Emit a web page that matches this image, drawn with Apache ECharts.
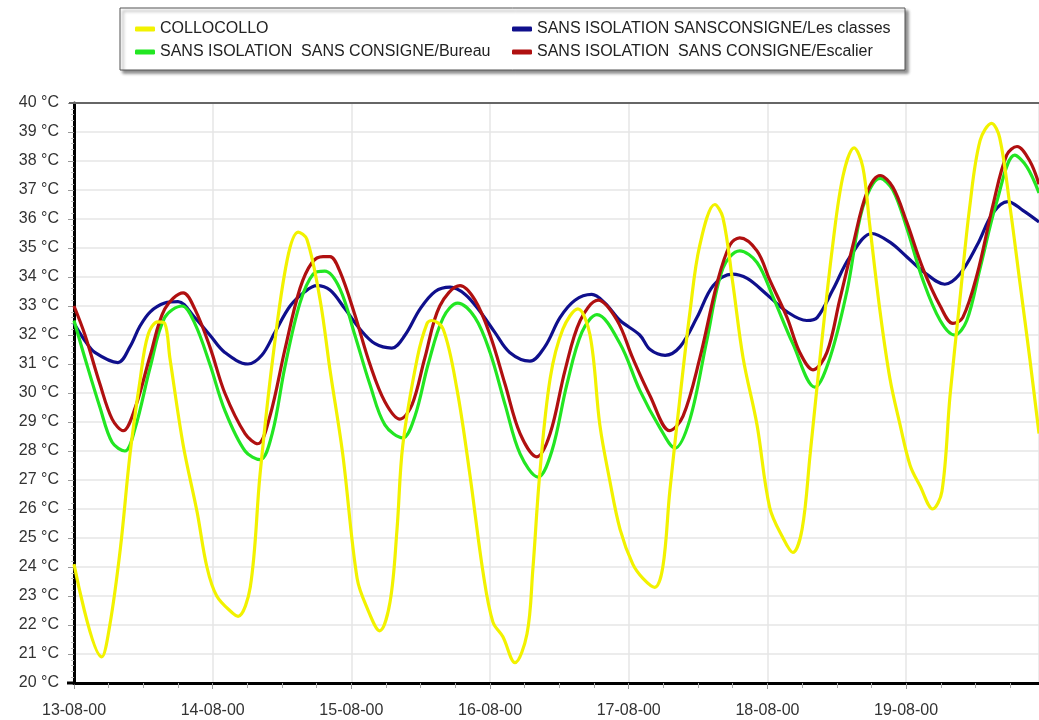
<!DOCTYPE html>
<html>
<head>
<meta charset="utf-8">
<script src="https://cdn.jsdelivr.net/npm/echarts@6/dist/echarts.min.js"></script>
<style>html,body{margin:0;padding:0;background:#fff}#c{width:1039px;height:720px}</style>
</head>
<body>
<div id="c"></div>
<script>
// ---- data (hours since 13-08-00 00:00, temperature °C) ----
const dayLabels = ['13-08-00','14-08-00','15-08-00','16-08-00','17-08-00','18-08-00','19-08-00'];
const seriesNames = ['COLLOCOLLO','SANS ISOLATION SANSCONSIGNE/Les classes','SANS ISOLATION  SANS CONSIGNE/Bureau','SANS ISOLATION  SANS CONSIGNE/Escalier'];

const colloHours = [0,4.8,6.2,8.0,9.7,11.4,12.8,14.5,15.7,16.6,18.9,21.3,23.0,24.7,27.5,28.4,30.5,32.2,34.4,36.9,38.8,40.3,42.6,44.3,46.5,49.0,50.7,52.9,54.7,55.9,56.9,59.4,61.1,61.9,63.9,66.3,68.5,70.8,72.5,74.2,76.3,78.4,79.4,80.6,82.4,84.6,87.2,89.3,91.0,92.7,94.5,96.7,98.5,100.5,101.9,103.1,104.9,106.6,108.3,110.9,112.3,114.0,115.8,118.2,120.4,122.7,124.4,126.0,127.4,129.1,131.3,133.1,135.0,136.5,137.7,139.5,141.2,142.9,144.7,146.4,148.6,150.2,151.6,153.3,155.0,156.8,158.8,160.2,162.0,163.7,165.4,167.0];
const colloTemps = [24.1,20.9,22.0,24.6,27.9,30.4,32.0,32.45,32.4,31.2,28.2,25.9,24.0,23.0,22.4,22.3,23.3,27.2,31.2,34.6,35.55,35.3,33.2,30.8,27.9,23.6,22.6,21.8,22.8,25.3,28.2,31.2,32.4,32.5,32.2,30.1,27.2,23.8,22.1,21.6,20.7,21.7,23.9,27.2,30.5,32.2,32.9,32.0,28.9,27.0,25.3,24.1,23.6,23.3,24.0,26.6,29.9,32.8,35.1,36.5,36.05,33.8,31.2,28.9,26.05,25.0,24.5,25.3,27.9,31.2,35.1,37.5,38.45,37.8,35.8,32.8,30.5,28.95,27.5,26.8,26.0,26.6,29.9,33.2,36.4,38.7,39.3,38.8,36.4,33.8,31.2,28.6];

const classesHours = [0,1.9,3.6,7.6,9.7,11.4,13.2,15.7,18.0,20.9,23.5,26.1,30.1,32.5,34.8,37.4,40.0,42.0,44.3,46.9,49.5,52.1,55.0,57.3,59.9,62.5,65.1,67.7,70.3,72.8,75.4,78.9,81.5,84.1,86.7,89.6,91.9,94.5,97.9,99.7,102.3,104.9,107.8,110.6,113.9,116.5,119.9,123.4,126.8,128.6,131.3,134.3,138.1,141.2,144.1,146.9,150.7,153.3,156.3,159.0,161.6,164.2,167.0];
const classesTemps = [32.4,31.8,31.4,31.05,31.6,32.3,32.8,33.1,33.15,32.6,32.0,31.4,31.0,31.3,32.1,33.0,33.5,33.7,33.55,32.9,32.2,31.7,31.55,32.0,32.9,33.5,33.65,33.4,32.8,32.1,31.4,31.1,31.6,32.6,33.2,33.4,33.1,32.5,32.0,31.5,31.3,31.6,32.6,33.7,34.1,33.95,33.4,32.8,32.5,32.6,33.55,34.7,35.5,35.2,34.7,34.2,33.75,34.1,35.1,36.2,36.6,36.3,35.9];

const bureauHours = [0,1.9,4.5,6.6,8.8,10.6,13.2,15.7,18.7,20.9,23.5,26.1,29.6,32.2,34.3,36.5,39.1,41.4,43.4,46.0,48.6,51.2,53.8,56.9,59.0,61.3,63.9,66.4,69.4,72.0,74.6,77.2,80.3,82.7,85.3,87.9,90.5,94.5,97.9,101.4,104.0,106.6,109.5,112.3,115.2,118.2,121.0,124.4,128.2,130.8,133.8,136.5,139.5,141.7,144.1,146.9,149.9,152.4,154.5,156.8,159.7,162.8,164.9,167.0];
const bureauTemps = [32.5,31.2,29.5,28.3,28.0,28.8,30.9,32.6,33.0,32.4,31.0,29.4,28.0,27.7,28.6,30.9,33.1,34.1,34.2,33.6,32.0,30.3,28.9,28.45,29.2,31.0,32.6,33.1,32.6,31.4,29.6,27.9,27.1,28.0,30.3,32.1,32.7,31.7,30.1,28.8,28.1,29.1,31.8,34.3,34.9,34.5,33.3,31.7,30.2,31.2,33.55,36.4,37.4,37.0,35.7,33.9,32.5,32.0,32.5,34.3,36.6,38.2,37.8,36.9];

const escalierHours = [0,1.9,4.5,6.6,8.5,10.6,13.2,15.7,18.9,20.9,23.5,26.1,29.6,31.8,33.9,36.5,39.1,41.2,43.1,44.3,46.0,48.6,51.2,53.8,56.4,58.5,60.7,63.3,66.8,69.4,72.0,74.6,77.2,80.1,82.4,85.0,87.6,90.7,94.0,96.7,99.7,103.1,105.4,108.3,111.3,113.5,115.2,118.2,120.4,123.4,125.6,127.9,130.3,132.5,134.8,137.2,139.5,141.7,144.1,146.9,149.9,152.1,153.8,156.3,159.0,161.4,163.2,165.4,167.0];
const escalierTemps = [33.0,32.0,30.3,29.1,28.7,29.5,31.3,32.9,33.45,32.9,31.6,30.0,28.6,28.25,29.2,31.5,33.6,34.5,34.7,34.7,34.2,32.7,31.0,29.7,29.1,29.6,31.2,33.0,33.7,33.2,32.0,30.3,28.6,27.8,28.6,30.8,32.5,33.2,32.5,31.2,29.9,28.7,29.2,31.2,33.8,35.1,35.35,34.9,33.9,32.6,31.4,30.8,31.4,33.2,35.1,36.9,37.5,37.1,35.9,34.3,33.0,32.4,32.6,34.1,36.45,38.2,38.5,38.0,37.2];

// ---- chart ----
const pair = (h, t) => h.map((x, i) => [x, t[i]]);
const FONT = "'Liberation Sans', Arial, sans-serif";
const colors = ['#f2f200', '#0f0f8c', '#22e622', '#b01010'];

function lineSeries(name, data, color, z) {
  return {
    name, type: 'line', data, smooth: 0.35, symbol: 'none', z,
    lineStyle: { color, width: 3.2 }, itemStyle: { color }
  };
}

const chart = echarts.init(document.getElementById('c'), null, { renderer: 'canvas' });
chart.setOption({
  animation: false,
  backgroundColor: '#fff',
  graphic: [
    { type: 'rect', z: 0, shape: { x: 120, y: 8, width: 785, height: 62 },
      style: { fill: '#fff', stroke: '#555', lineWidth: 1, shadowBlur: 3, shadowOffsetX: 3, shadowOffsetY: 3, shadowColor: 'rgba(0,0,0,0.45)' } },
    { type: 'line', z: 5, shape: { x1: 67, y1: 683, x2: 76, y2: 683 }, style: { stroke: '#000', lineWidth: 3 } },
    { type: 'line', z: 5, shape: { x1: 69, y1: 103, x2: 76, y2: 103 }, style: { stroke: '#666', lineWidth: 2 } }
  ],
  legend: [
    { orient: 'vertical', left: 130, top: 16, itemGap: 7, itemWidth: 20, itemHeight: 5, icon: 'roundRect',
      data: [seriesNames[0], seriesNames[2]], textStyle: { fontFamily: FONT, fontSize: 16, color: '#222' }, selectedMode: false },
    { orient: 'vertical', left: 507, top: 16, itemGap: 7, itemWidth: 20, itemHeight: 5, icon: 'roundRect',
      data: [seriesNames[1], seriesNames[3]], textStyle: { fontFamily: FONT, fontSize: 16, color: '#222' }, selectedMode: false }
  ],
  grid: { left: 74, right: 0, top: 103, bottom: 37, containLabel: false },
  xAxis: [
    { type: 'value', min: 0, max: 167, interval: 24, position: 'bottom',
      axisLine: { lineStyle: { color: '#000', width: 3 } },
      axisTick: { length: 6, lineStyle: { color: '#999' } },
      minorTick: { show: true, splitNumber: 4, length: 5, lineStyle: { color: '#aaa' } },
      splitLine: { show: true, lineStyle: { color: '#e6e6e6', width: 1.5 } },
      axisLabel: { margin: 20, fontFamily: FONT, fontSize: 16, color: '#333', showMaxLabel: false,
        formatter: v => (v % 24 === 0 ? (dayLabels[v / 24] || '') : '') } },
    { type: 'value', min: 0, max: 167, position: 'top',
      axisLine: { show: true, lineStyle: { color: '#666', width: 2 } },
      axisTick: { show: false }, axisLabel: { show: false }, splitLine: { show: false } }
  ],
  yAxis: {
    type: 'value', min: 20, max: 40, interval: 1, offset: 5,
    axisLine: { show: true, lineStyle: { color: '#000', width: 3 } },
    axisTick: { show: true, length: 6, lineStyle: { color: '#999' } },
    minorTick: { show: true, splitNumber: 5, length: 3, lineStyle: { color: '#bbb' } },
    splitLine: { show: true, lineStyle: { color: '#e6e6e6', width: 1.5 } },
    axisLabel: { margin: 10, fontFamily: FONT, fontSize: 16, color: '#333', formatter: '{value} °C' }
  },
  series: [
    lineSeries(seriesNames[0], pair(colloHours, colloTemps), colors[0], 6),
    lineSeries(seriesNames[1], pair(classesHours, classesTemps), colors[1], 3),
    lineSeries(seriesNames[2], pair(bureauHours, bureauTemps), colors[2], 4),
    lineSeries(seriesNames[3], pair(escalierHours, escalierTemps), colors[3], 5)
  ]
});
</script>
</body>
</html>
